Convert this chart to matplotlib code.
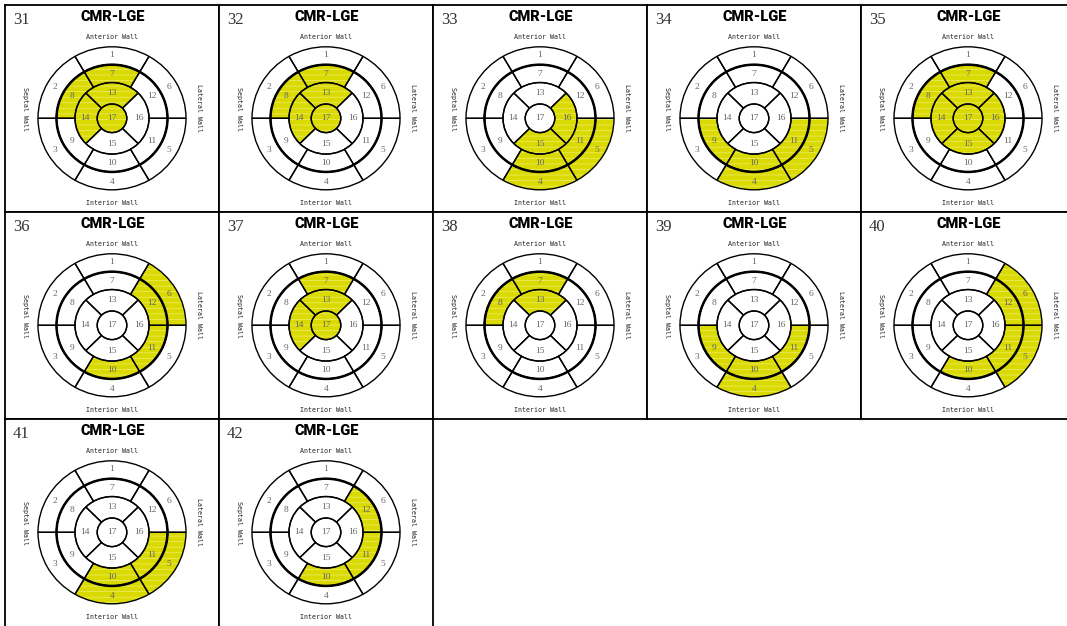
import numpy as np
import matplotlib
matplotlib.use("Agg")
import matplotlib.pyplot as plt
from matplotlib.patches import Wedge, Circle

# Late gadolinium enhancement per case, as AHA 17-segment numbers
case_ids = [31, 32, 33, 34, 35, 36, 37, 38, 39, 40, 41, 42]
enhanced_segments = [
    [7, 8, 13, 14, 17],
    [7, 8, 13, 14, 17],
    [4, 5, 10, 11, 15, 16],
    [4, 5, 9, 10, 11],
    [7, 8, 13, 14, 15, 16, 17],
    [6, 10, 11, 12],
    [7, 13, 14, 17],
    [7, 8, 13],
    [4, 9, 10, 11],
    [5, 6, 10, 11, 12],
    [4, 5, 10, 11],
    [10, 11, 12],
]
segment_numbers = list(range(1, 18))
panel_title = "CMR-LGE"
wall_top, wall_bottom, wall_left, wall_right = (
    "Anterior Wall", "Interior Wall", "Septal Wall", "Lateral Wall")

# figure / panel geometry in pixels
FIG_W, FIG_H = 1067, 626
PANEL_W, PANEL_H = 214, 207
ORIGIN_X, ORIGIN_Y = 5, 5
N_COLS = 5
CX, CY = 107.0, 113.3          # bullseye centre inside a panel
RX, RY = 74.0, 71.5            # outer radius (horizontal / vertical)

FILL = "#dada00"
STREAK = "#ecec72"
NUM_COLOR = "#666666"
plt.rcParams["hatch.linewidth"] = 0.5
plt.rcParams["hatch.color"] = STREAK

# ring radii (outer radius = 1)
R_BASAL = (0.75, 1.0)
R_MID = (0.5, 0.75)
R_APICAL = (0.2, 0.5)
R_APEX = 0.2


def segment_shape(seg):
    """Return (r_in, r_out, theta_center, half_span) for a segment number."""
    if seg <= 6:
        return R_BASAL[0], R_BASAL[1], 90 + 60 * (seg - 1), 30
    if seg <= 12:
        return R_MID[0], R_MID[1], 90 + 60 * (seg - 7), 30
    if seg <= 16:
        return R_APICAL[0], R_APICAL[1], 90 + 90 * (seg - 13), 45
    return 0.0, R_APEX, 0, 180


def draw_bullseye(ax, filled):
    for seg in segment_numbers:
        r_in, r_out, tc, hs = segment_shape(seg)
        on = seg in filled
        if seg == 17:
            if on:
                ax.add_patch(Circle((0, 0), r_out, facecolor=FILL, edgecolor="none", zorder=1))
                ax.add_patch(Circle((0, 0), r_out, facecolor="none", edgecolor=STREAK,
                                    hatch="---", lw=0, zorder=1.5))
            ax.add_patch(Circle((0, 0), r_out, facecolor="none", edgecolor="black",
                                lw=1.0, zorder=3))
            lx, ly = 0.0, 0.0
        else:
            kw = dict(center=(0, 0), r=r_out, theta1=tc - hs, theta2=tc + hs,
                      width=r_out - r_in)
            if on:
                ax.add_patch(Wedge(**kw, facecolor=FILL, edgecolor="none", zorder=1))
                ax.add_patch(Wedge(**kw, facecolor="none", edgecolor=STREAK,
                                   hatch="---", lw=0, zorder=1.5))
            ax.add_patch(Wedge(**kw, facecolor="none", edgecolor="black",
                               lw=1.0, zorder=3))
            rm = (r_in + r_out) / 2 + (0.01 if seg <= 6 else 0.0)
            if 13 <= seg <= 16:
                rm = 0.36
            lx = rm * np.cos(np.radians(tc))
            ly = rm * np.sin(np.radians(tc))
        ax.text(lx, ly, str(seg), ha="center", va="center", fontsize=6.8,
                family="Liberation Serif", color=NUM_COLOR, zorder=4)
    # heavier boundary between basal and mid rings
    ax.add_patch(Circle((0, 0), R_BASAL[0], facecolor="none", edgecolor="black",
                        lw=1.8, zorder=3.5))


fig = plt.figure(figsize=(FIG_W / 100, FIG_H / 100), dpi=100)
fig.patch.set_facecolor("white")

n_rows = (len(case_ids) + N_COLS - 1) // N_COLS
for i, (cid, segs) in enumerate(zip(case_ids, enhanced_segments)):
    row, col = divmod(i, N_COLS)
    x0 = ORIGIN_X + PANEL_W * col
    y0 = ORIGIN_Y + PANEL_H * row
    ax = fig.add_axes([x0 / FIG_W, 1 - (y0 + PANEL_H) / FIG_H,
                       PANEL_W / FIG_W, PANEL_H / FIG_H])
    ax.set_xlim(-CX / RX, (PANEL_W - CX) / RX)
    ax.set_ylim(-(PANEL_H - CY) / RY, CY / RY)
    ax.set_xticks([])
    ax.set_yticks([])
    for sp in ax.spines.values():
        sp.set_linewidth(1.3)
        sp.set_color("black")
    if row == n_rows - 1:
        ax.spines["bottom"].set_visible(False)

    draw_bullseye(ax, segs)

    t = ax.transAxes
    ax.text(8 / PANEL_W, 1 - 15 / PANEL_H, str(cid), transform=t, ha="left",
            va="center", fontsize=12, family="Liberation Serif", color="#333333")
    ax.text(108 / PANEL_W, 1 - 12 / PANEL_H, panel_title, transform=t,
            ha="center", va="center", fontsize=10.5, fontweight="heavy",
            family=["Roboto", "DejaVu Sans"], color="black")
    ax.text(107 / PANEL_W, 1 - 32 / PANEL_H, wall_top, transform=t,
            ha="center", va="center", fontsize=4.8, family="DejaVu Sans Mono",
            color="#222222")
    ax.text(107 / PANEL_W, 1 - 198 / PANEL_H, wall_bottom, transform=t,
            ha="center", va="center", fontsize=4.8, family="DejaVu Sans Mono",
            color="#222222")
    ax.text(20 / PANEL_W, 1 - 104 / PANEL_H, wall_left, transform=t,
            ha="center", va="center", rotation=270, fontsize=4.8,
            family="DejaVu Sans Mono", color="#222222")
    ax.text(194 / PANEL_W, 1 - 103 / PANEL_H, wall_right, transform=t,
            ha="center", va="center", rotation=270, fontsize=4.8,
            family="DejaVu Sans Mono", color="#222222")

fig.savefig("out.png", dpi=100, facecolor="white")
